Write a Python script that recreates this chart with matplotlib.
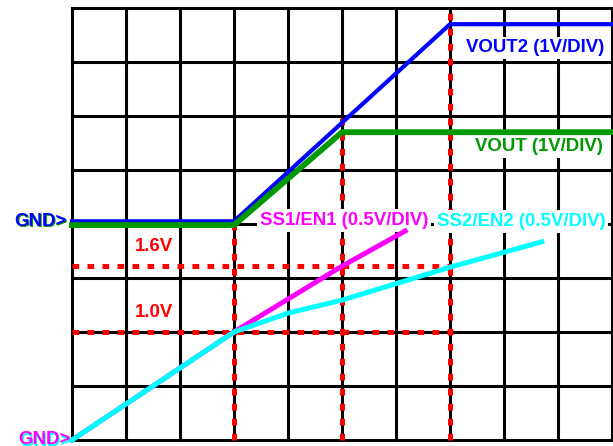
import matplotlib
matplotlib.use("Agg")
import matplotlib.pyplot as plt

plt.rcParams['font.family'] = ['Liberation Sans', 'DejaVu Sans']
plt.rcParams['lines.scale_dashes'] = False

# scope traces, x in time divisions, y in vertical divisions (0 = bottom of screen)
vout2_x = [0, 3, 7, 10]
vout2_y = [4.05, 4.05, 7.7, 7.7]
vout_x = [0, 3, 5, 10]
vout_y = [3.98, 3.98, 5.7, 5.7]
ss1_x = [0, 3, 5, 6.17]
ss1_y = [0, 2.0, 3.22, 3.87]
ss2_x = [0, 3, 4, 5, 7, 8.7]
ss2_y = [0, 2.0, 2.35, 2.59, 3.2, 3.67]

# reference markers
ref_levels = [3.22, 2.0]          # 1.6V and 1.0V at 0.5V/div
ref_labels = ['1.6V', '1.0V']
ref_times = [3, 5, 7]
ref_tops = [4.0, 6.05, 7.95]

BLUE = '#0000ff'
GREEN = '#009a00'
MAGENTA = '#ff00ff'
CYAN = '#00ffff'
RED = '#ff0000'

fig = plt.figure(figsize=(6.13, 4.46), dpi=100)
ax = fig.add_axes([72 / 613, 6 / 446, 540 / 613, 432 / 446])
ax.set_xlim(0, 10)
ax.set_ylim(0, 8)
ax.axis('off')

# scope grid
for i in range(11):
    ax.plot([i, i], [0, 8], color='black', lw=2.2, clip_on=False, zorder=1)
for j in range(9):
    ax.plot([0, 10], [j, j], color='black', lw=2.2, clip_on=False, zorder=1)

# red dashed markers
for lv in ref_levels:
    ax.plot([0, 7.05], [lv, lv], color=RED, lw=3.6, dashes=(4.8, 6.0),
            solid_capstyle='butt', clip_on=False, zorder=2)
for t, top in zip(ref_times, ref_tops):
    ax.plot([t, t], [0, top], color=RED, lw=3.6, dashes=(4.8, 6.0),
            solid_capstyle='butt', clip_on=False, zorder=2)

# traces
ax.plot(vout2_x, vout2_y, color=BLUE, lw=3.0, clip_on=False, zorder=4)
ax.plot(vout_x, vout_y, color=GREEN, lw=4.2, clip_on=False, zorder=5)
ax.plot(ss1_x, ss1_y, color=MAGENTA, lw=3.6, clip_on=False, zorder=4)
ax.plot(ss2_x, ss2_y, color=CYAN, lw=3.6, clip_on=False, zorder=5)

bold = dict(fontsize=13.4, fontweight='bold', va='center', ha='left')
wbox = dict(facecolor='white', edgecolor='none', pad=2)

ax.text(7.3, 7.26, 'VOUT2 (1V/DIV)', color=BLUE, bbox=wbox, zorder=6, **bold)
ax.text(7.46, 5.43, 'VOUT (1V/DIV)', color=GREEN, bbox=wbox, zorder=3, **bold)
ax.text(3.48, 4.07, 'SS1/EN1 (0.5V/DIV)', color=MAGENTA, bbox=wbox, zorder=3, **bold)
ax.text(6.76, 4.05, 'SS2/EN2 (0.5V/DIV)', color=CYAN, bbox=wbox, zorder=3, **bold)

for lv, lab in zip(ref_levels, ref_labels):
    ax.text(1.17, lv + 0.36, lab, color=RED, zorder=6, **bold)

# ground markers, two-colour like the scope screenshot
ax.text(-1.05, 4.02, 'GND>', color=GREEN, zorder=6, **bold)
ax.text(-1.07, 4.05, 'GND>', color=BLUE, zorder=7, **bold)
ax.text(-0.98, -0.02, 'GND>', color=CYAN, zorder=6, clip_on=False, **bold)
ax.text(-1.0, 0.01, 'GND>', color=MAGENTA, zorder=7, clip_on=False, **bold)

fig.savefig('out.png', dpi=100)
